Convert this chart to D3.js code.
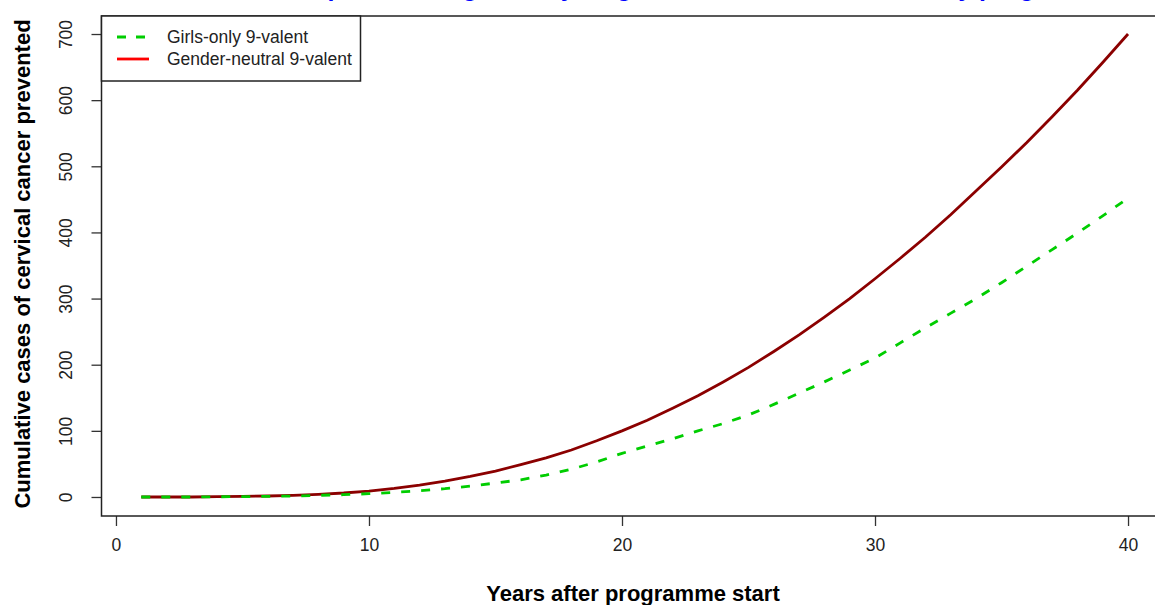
<!DOCTYPE html>
<html>
<head>
    <title>Cumulative cases prevented</title>
    <meta charset="utf-8">
    <style type="text/css">
        body{
            margin:0;
            background:#fff;
        }
        svg text{
            font-family: "Liberation Sans", Arial, sans-serif;
        }
        .axis text{
            font-size:17.5px;
            fill:#222;
        }
        .axis line{
            stroke:#333;
            stroke-width:1.3px;
        }
        .lab{
            font-size:22px;
            font-weight:bold;
            fill:#000;
        }
    </style>
</head>
<body>

<div id="chart"></div>

<script src="https://cdn.jsdelivr.net/npm/d3@7"></script>

<script type="text/javascript">

var years = d3.range(1, 41);

// girls-only 9-valent (green dashed)
var girlsOnly = [0, 0, 0, 0.3, 0.5, 1, 1.5, 2.5, 3.5, 5,
                 7, 9.5, 12.5, 16.5, 21, 26, 33, 42, 53, 66,
                 77, 88, 100, 111, 124, 140, 157, 174, 192, 210,
                 233, 256, 278, 300, 324, 349, 374, 399, 425, 452];

// gender-neutral 9-valent (dark red)
var genderNeutral = [0, 0, 0, 0.5, 1, 1.5, 2.5, 4, 6, 9,
                     13, 18, 24, 31, 39, 49, 59, 71, 85, 100,
                     116, 134, 153, 174, 196, 220, 245, 272, 300, 330,
                     361, 393, 427, 463, 499, 536, 575, 615, 657, 700];

var xTicks = [0, 10, 20, 30, 40],
    yTicks = [0, 100, 200, 300, 400, 500, 600, 700];

var legendLabels = ['Girls-only 9-valent', 'Gender-neutral 9-valent'];
var titleText = 'Cervical cancer cases prevented: girls-only vs gender-neutral vaccination by programme strategy';

var width  = 1155,
    height = 605;

var svg = d3.select('#chart')
    .append('svg')
    .attr('width', width)
    .attr('height', height);

// R style: data range padded by 4%
var x = d3.scaleLinear().domain([-0.56, 41.56]).range([101.8, 1167.5]);
var y = d3.scaleLinear().domain([-28, 728]).range([515.5, 15.5]);

// title sits above the visible area, only the descender tips peek in
svg.append('text')
    .attr('x', 640)
    .attr('y', -4)
    .attr('text-anchor', 'middle')
    .attr('font-size', 25)
    .attr('font-weight', 'bold')
    .attr('fill', '#0000ff')
    .text(titleText);

// x axis
var xAxis = svg.append('g')
    .attr('class', 'axis')
    .attr('transform', 'translate(0,' + 516 + ')')
    .call(d3.axisBottom(x).tickValues(xTicks).tickSize(10).tickPadding(14));
xAxis.select('.domain').remove();
xAxis.selectAll('text').attr('dy', '0.62em');

// y axis, labels turned like R's las=0
var yAxis = svg.append('g')
    .attr('class', 'axis')
    .attr('transform', 'translate(' + 101.5 + ',0)')
    .call(d3.axisLeft(y).tickValues(yTicks).tickSize(10));
yAxis.select('.domain').remove();
yAxis.selectAll('.tick text')
    .attr('x', null)
    .attr('dy', null)
    .attr('transform', 'translate(-36,0) rotate(-90)')
    .attr('text-anchor', 'middle')
    .attr('dominant-baseline', 'central');

// lines
var line = d3.line()
    .x(function(d, i){ return x(years[i]) })
    .y(function(d){ return y(d) });

svg.append('path')
    .datum(genderNeutral)
    .attr('d', line)
    .attr('fill', 'none')
    .attr('stroke', '#8b0000')
    .attr('stroke-width', 2.8);

svg.append('path')
    .datum(girlsOnly)
    .attr('d', line)
    .attr('fill', 'none')
    .attr('stroke', '#00cd00')
    .attr('stroke-width', 2.8)
    .attr('stroke-dasharray', '9,11');

// plot box
svg.append('rect')
    .attr('x', 101.5)
    .attr('y', 16)
    .attr('width', 1070)
    .attr('height', 500)
    .attr('fill', 'none')
    .attr('stroke', '#222')
    .attr('stroke-width', 1.5);

// legend
var legend = svg.append('g');
legend.append('rect')
    .attr('x', 101.5)
    .attr('y', 16)
    .attr('width', 259)
    .attr('height', 65)
    .attr('fill', '#fff')
    .attr('stroke', '#222')
    .attr('stroke-width', 1.5);

var legendColors = ['#00cd00', '#ff0000'],
    legendDash = ['9,10', null];

legendLabels.forEach(function(label, i){
    var ly = 37 + i * 22;
    legend.append('line')
        .attr('x1', 117).attr('x2', 149)
        .attr('y1', ly).attr('y2', ly)
        .attr('stroke', legendColors[i])
        .attr('stroke-width', 2.8)
        .attr('stroke-dasharray', legendDash[i]);
    legend.append('text')
        .attr('x', 167)
        .attr('y', ly)
        .attr('dy', '0.35em')
        .attr('font-size', 17.5)
        .attr('fill', '#222')
        .text(label);
});

// axis titles
svg.append('text')
    .attr('class', 'lab')
    .attr('x', 633)
    .attr('y', 601)
    .attr('text-anchor', 'middle')
    .text('Years after programme start');

svg.append('text')
    .attr('class', 'lab')
    .attr('transform', 'translate(30,264) rotate(-90)')
    .attr('text-anchor', 'middle')
    .text('Cumulative cases of cervical cancer prevented');

</script>

</body>
</html>
